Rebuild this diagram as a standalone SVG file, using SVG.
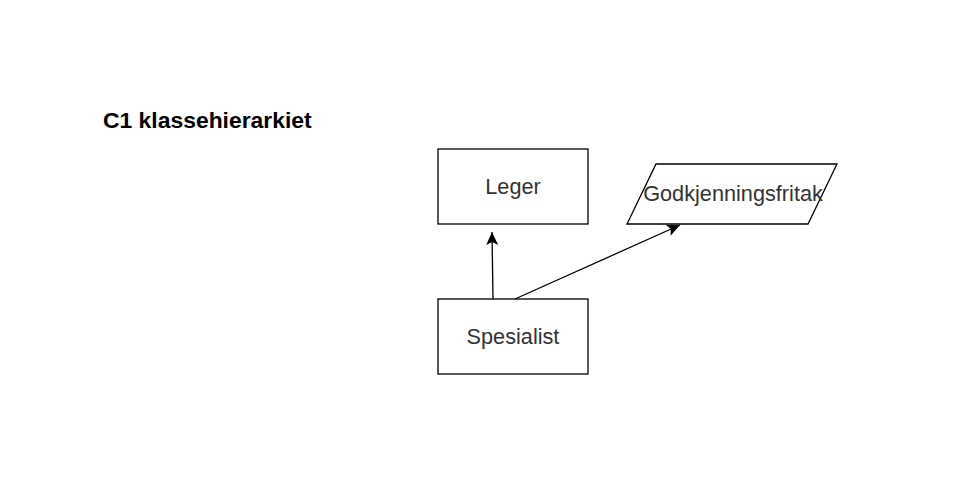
<svg xmlns="http://www.w3.org/2000/svg" width="965" height="494" viewBox="0 0 965 494">
<defs>
<style>
.shape{fill:#ffffff;stroke:#000000;stroke-width:1.3}
.lbl{font-family:"Liberation Sans",Arial,sans-serif;font-size:21.7px;fill:#333333;text-anchor:middle}
.edge{fill:none;stroke:#000000;stroke-width:1.3}
</style>
<marker id="arr" markerWidth="14" markerHeight="14" refX="13" refY="6" orient="auto" markerUnits="userSpaceOnUse">
<path d="M0,0 L13,6 L0,12 L3,6 Z" fill="#000000"/>
</marker>
</defs>
<rect width="965" height="494" fill="#ffffff"/>
<text x="103" y="128" font-family="Liberation Sans,Arial,sans-serif" font-size="22.9" font-weight="bold" fill="#000000">C1 klassehierarkiet</text>
<g id="leger">
<rect class="shape" x="438" y="149" width="150" height="75"/>
<text class="lbl" x="513" y="194">Leger</text>
</g>
<g id="godkjenningsfritak">
<polygon class="shape" points="656,164 837,164 808,224 627,224"/>
<text class="lbl" x="733" y="201">Godkjenningsfritak</text>
</g>
<g id="spesialist">
<rect class="shape" x="438" y="299" width="150" height="75"/>
<text class="lbl" x="513" y="344">Spesialist</text>
</g>
<g id="connectors">
<path class="edge" d="M493,299 L492,232" marker-end="url(#arr)"/>
<path class="edge" d="M515,299 L680,225" marker-end="url(#arr)"/>
</g>
</svg>
